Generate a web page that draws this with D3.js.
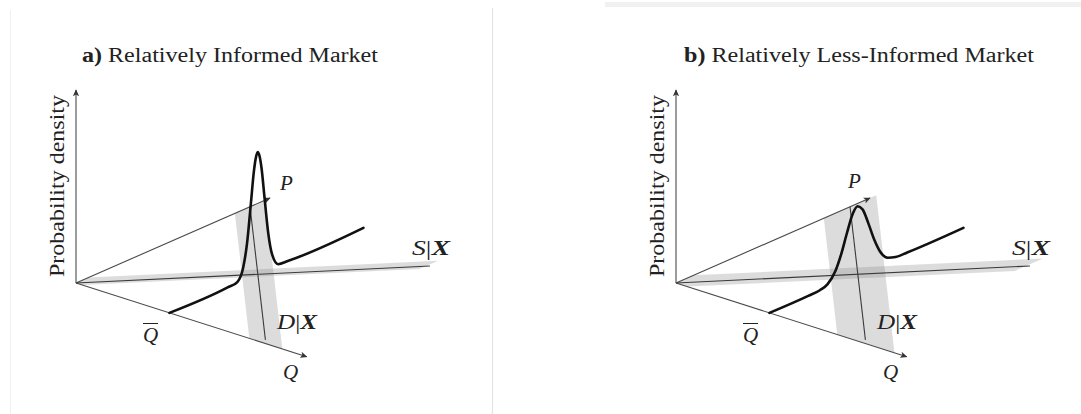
<!DOCTYPE html>
<html>
<head>
<meta charset="utf-8">
<script src="https://cdn.jsdelivr.net/npm/d3@7"></script>
<style>
  body { margin: 0; background: #fff; }
  svg { display: block; }
</style>
</head>
<body>
<svg id="chart" width="1081" height="414"></svg>
<script>
// ---------- data ----------
const panelTags = ["a)", "b)"];
const panelTitles = ["Relatively Informed Market", "Relatively Less-Informed Market"];
const densityAxisLabel = "Probability density";

// equilibrium quantity where the price density is drawn
const qBar = 0.405;

// expected supply and demand schedules in the (Q, P) floor plane
const supplyLine = [{ q: 0, p: 0 }, { q: 0.79, p: 0.885 }];
const demandLine = [{ q: 0, p: 0.897 }, { q: 0.80, p: 0.025 }];

// shaded uncertainty band around each schedule (price units): [above, below]
const supplySpread = [[0.065, 0.032], [0.09, 0.055]];
const demandSpread = [0.078, 0.135];

// price density at Q = Q-bar, informed market
const priceA   = [0, 0.30, 0.35, 0.38, 0.40, 0.42, 0.435, 0.445, 0.455, 0.465, 0.475, 0.49, 0.51, 0.53, 0.56, 0.61, 1.0];
const densityA = [0, 0,    0.1,  1.2,  3.3,  6.9,  9.7,   10.9,  11.4,  10.9,  9.7,   6.9,  3.3,  1.2,  0.1,  0,    0];

// price density at Q = Q-bar, less-informed market
const priceB   = [0, 0.20, 0.26, 0.30, 0.34, 0.37, 0.40, 0.43, 0.455, 0.48, 0.51, 0.54, 0.57, 0.61, 0.65, 0.71, 1.0];
const densityB = [0, 0,    0.05, 0.3,  1.2,  2.55, 4.3,  5.85, 6.33,  5.85, 4.3,  2.55, 1.2,  0.3,  0.05, 0,    0];

const panels = [
  { tag: panelTags[0], title: panelTitles[0], price: priceA, density: densityA,
    sSpread: supplySpread[0], dSpread: demandSpread[0] },
  { tag: panelTags[1], title: panelTitles[1], price: priceB, density: densityB,
    sSpread: supplySpread[1], dSpread: demandSpread[1] }
];

// ---------- oblique 3-D projection ----------
const qX = d3.scaleLinear().domain([0, 1]).range([0, 230.7]);
const qY = d3.scaleLinear().domain([0, 1]).range([0, 73.7]);
const pX = d3.scaleLinear().domain([0, 1]).range([0, 194]);
const pY = d3.scaleLinear().domain([0, 1]).range([0, -85]);
const zY = d3.scaleLinear().domain([0, 18]).range([0, -193]);

const proj = (q, p, z = 0) => [qX(q) + pX(p), qY(q) + pY(p) + zY(z)];

const svg = d3.select("#chart");
const serif = "'Liberation Serif', 'Times New Roman', serif";
const axisColor = "#4a4a4a";

// faint page frame lines
svg.append("line").attr("x1", 10.5).attr("x2", 10.5).attr("y1", 10).attr("y2", 414)
  .attr("stroke", "#f0f0f0").attr("stroke-width", 1);
svg.append("line").attr("x1", 492.5).attr("x2", 492.5).attr("y1", 8).attr("y2", 414)
  .attr("stroke", "#e4e4e4").attr("stroke-width", 1.2);
svg.append("rect").attr("x", 605).attr("y", 2).attr("width", 476).attr("height", 5)
  .attr("fill", "#f1f1f1");

// arrowhead
const defs = svg.append("defs");
defs.append("marker")
  .attr("id", "arrow")
  .attr("viewBox", "0 -5 10 10")
  .attr("refX", 9).attr("refY", 0)
  .attr("markerWidth", 7).attr("markerHeight", 7)
  .attr("markerUnits", "userSpaceOnUse")
  .attr("orient", "auto")
  .append("path")
  .attr("d", "M0,-4.5 L10,0 L0,4.5 L2.5,0 Z")
  .attr("fill", "#333");

const lineGen = d3.line();
const curveGen = d3.line().curve(d3.curveMonotoneX);

panels.forEach((pan, i) => {
  const ox = 76 + 600 * i, oy = 283;
  const g = svg.append("g").attr("transform", `translate(${ox},${oy})`);

  // title
  const titleX = [82, 684][i];
  const titleW = [296, 350][i];
  const t = svg.append("text")
    .attr("x", titleX).attr("y", 62)
    .attr("font-family", serif).attr("font-size", 20)
    .attr("fill", "#222")
    .attr("textLength", titleW).attr("lengthAdjust", "spacingAndGlyphs");
  t.append("tspan").attr("font-weight", "bold").text(pan.tag);
  t.append("tspan").text(" " + pan.title);

  // --- shaded bands ---
  const s0 = supplyLine[0], s1 = supplyLine[1];
  const sSlope = (s1.p - s0.p) / (s1.q - s0.q);
  const [up, dn] = pan.sSpread;
  const qEnd = s1.q - 0.01;
  const supplyBand = [
    proj(0, 0), proj(0, up), proj(qEnd, sSlope * qEnd + up),
    proj(qEnd, sSlope * qEnd - dn), proj(dn / sSlope, 0)
  ];
  const d0 = demandLine[0], d1 = demandLine[1];
  const dSlope = (d0.p - d1.p) / (d1.q - d0.q);
  const dd = pan.dSpread;
  const demandBand = [
    proj(0, d0.p + dd), proj(0, d0.p - dd),
    proj((d0.p - dd) / dSlope, 0), proj((d0.p + dd) / dSlope, 0)
  ];
  [supplyBand, demandBand].forEach(poly => {
    g.append("path")
      .attr("d", lineGen(poly) + "Z")
      .attr("fill", "#8a8a8a")
      .attr("fill-opacity", 0.3);
  });

  // --- axes ---
  const axes = [proj(0, 0, 18), proj(1, 0), proj(0, 1)];
  axes.forEach(end => {
    g.append("path")
      .attr("d", lineGen([proj(0, 0), end]))
      .attr("stroke", axisColor).attr("stroke-width", 1.1)
      .attr("fill", "none")
      .attr("marker-end", "url(#arrow)");
  });

  // --- supply and demand schedules ---
  [supplyLine, demandLine].forEach(ln => {
    g.append("path")
      .attr("d", lineGen(ln.map(d => proj(d.q, d.p))))
      .attr("stroke", "#3a3a3a").attr("stroke-width", 1.1)
      .attr("fill", "none");
  });

  // --- price density curve at Q-bar ---
  const pts = pan.price.map((pv, k) => proj(qBar, pv, pan.density[k]));
  g.append("path")
    .attr("d", curveGen(pts))
    .attr("stroke", "#111").attr("stroke-width", 2.6)
    .attr("fill", "none")
    .attr("stroke-linejoin", "round").attr("stroke-linecap", "round");

  // --- labels ---
  const lab = (x, y, size) => svg.append("text")
    .attr("x", x).attr("y", y)
    .attr("font-family", serif).attr("font-size", size)
    .attr("fill", "#222");

  // vertical axis label
  svg.append("text")
    .attr("transform", `translate(${64 + 600 * i},${277}) rotate(-90)`)
    .attr("font-family", serif).attr("font-size", 21)
    .attr("fill", "#222")
    .attr("textLength", 182).attr("lengthAdjust", "spacingAndGlyphs")
    .text(densityAxisLabel);

  lab([280, 848][i], [190, 188][i], 21).attr("font-style", "italic").text("P");
  lab([283, 883][i], 379, 21).attr("font-style", "italic").text("Q");

  // Q-bar
  lab([143, 743][i], 342, 21).attr("font-style", "italic").text("Q");
  svg.append("line")
    .attr("x1", [143, 743][i]).attr("x2", [158, 758][i])
    .attr("y1", 323.5).attr("y2", 323.5)
    .attr("stroke", "#222").attr("stroke-width", 1);

  const sx = lab([412, 1012][i], 255, 21)
    .attr("textLength", 38).attr("lengthAdjust", "spacingAndGlyphs");
  sx.append("tspan").attr("font-style", "italic").text("S");
  sx.append("tspan").text("|");
  sx.append("tspan").attr("font-style", "italic").attr("font-weight", "bold").text("X");

  const dx = lab([277, 877][i], 329, 21)
    .attr("textLength", 40).attr("lengthAdjust", "spacingAndGlyphs");
  dx.append("tspan").attr("font-style", "italic").text("D");
  dx.append("tspan").text("|");
  dx.append("tspan").attr("font-style", "italic").attr("font-weight", "bold").text("X");
});
</script>
</body>
</html>
